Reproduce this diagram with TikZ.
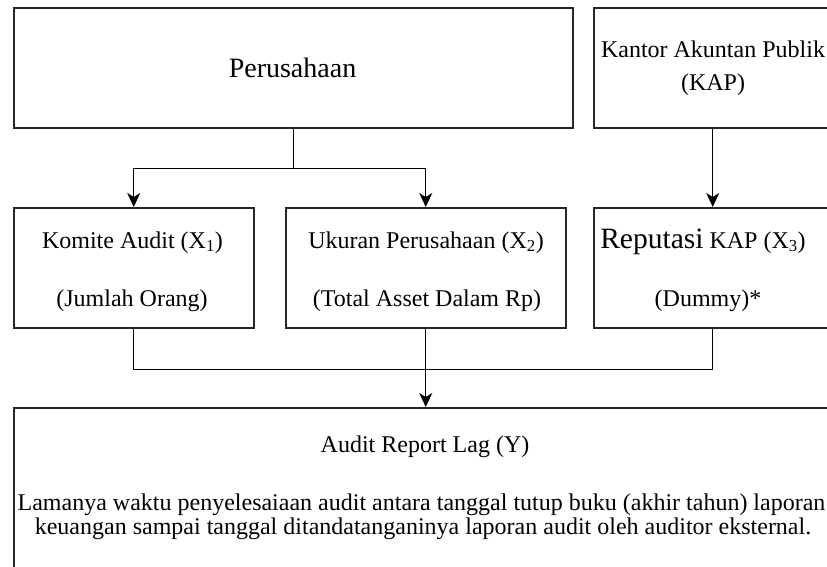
\documentclass[tikz,border=0pt]{standalone}
\usepackage{fontspec}
\setmainfont{Liberation Serif}
\usetikzlibrary{arrows.meta}
\begin{document}
\begin{tikzpicture}[x=1pt,y=-1pt,
  box/.style={draw=black!85, line width=1.5pt, inner sep=0pt, anchor=north west},
  conn/.style={line width=1.3pt},
  arr/.style={conn, -{Stealth[length=14pt,width=13pt,inset=4pt]}},
  txt/.style={inner sep=0pt, anchor=base, font=\fontsize{24}{29}\selectfont},
  big/.style={txt, font=\fontsize{28}{34}\selectfont}
]
\useasboundingbox (0,0) rectangle (827,566);
\clip (0,0) rectangle (827,566);
\fill[white] (0,0) rectangle (827,566);

% boxes
\node[box, minimum width=559pt, minimum height=120pt] (per) at (13,7) {};
\node[box, minimum width=238pt, minimum height=120pt] (kap) at (593,7) {};
\node[box, minimum width=240pt, minimum height=120pt] (kom) at (13,207) {};
\node[box, minimum width=280pt, minimum height=120pt] (uku) at (285,207) {};
\node[box, minimum width=238pt, minimum height=120pt] (rep) at (593,207) {};
\node[box, minimum width=824pt, minimum height=200pt] (y) at (13,407) {};

% texts
\node[big] (tper) at (292.5,77) {Perusahaan};
\node[txt] (tkap1) at (713,57) {Kantor Akuntan Publik};
\node[txt] (tkap2) at (713,90) {(KAP)};
\node[txt] (tkom1) at (132.5,248) {Komite Audit (X\textsubscript{1})};
\node[txt] (tkom2) at (132,306) {(Jumlah Orang)};
\node[txt] (tuku1) at (426,248) {Ukuran Perusahaan (X\textsubscript{2})};
\node[txt] (tuku2) at (427,306) {(Total Asset Dalam Rp)};
\node[txt] (trep1) at (703,248) {{\fontsize{29.5}{34}\selectfont Reputasi} KAP (X\textsubscript{3})};
\node[txt] (trep2) at (708,306) {(Dummy)*};
\node[txt] (ty1) at (425,452) {Audit Report Lag (Y)};
\node[txt] (ty2) at (421.5,510) {Lamanya waktu penyelesaiaan audit antara tanggal tutup buku (akhir tahun) laporan};
\node[txt] (ty3) at (423,534) {keuangan sampai tanggal ditandatanganinya laporan audit oleh auditor eksternal.};

% connectors
\draw[conn] (per.south) -- ++(0,40) coordinate (split);
\draw[arr] (split) -| (kom.north);
\draw[arr] (split) -| (uku.north);
\draw[arr] (kap.south) -- (rep.north);
\draw[conn] (kom.south) -- ++(0,41) coordinate (jl) -| (rep.south);
\draw[arr] (uku.south) -- (y.north);
\end{tikzpicture}
\end{document}
